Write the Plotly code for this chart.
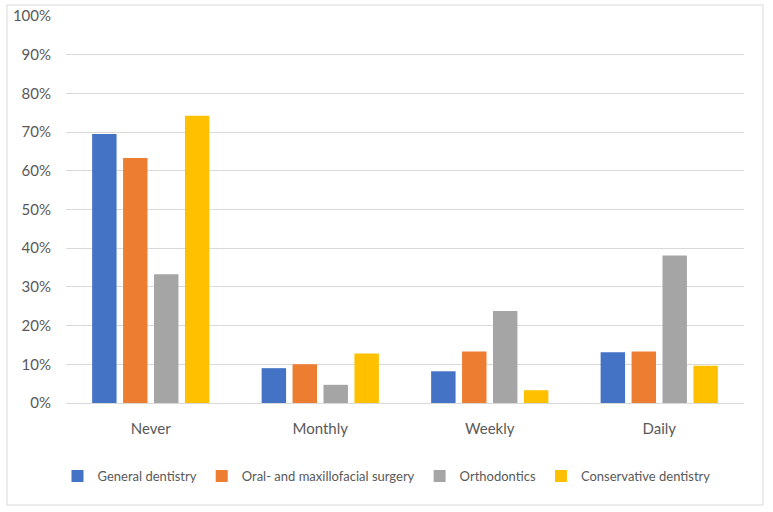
import plotly.graph_objects as go

categories = ["Never", "Monthly", "Weekly", "Daily"]
series_names = ["General dentistry", "Oral- and maxillofacial surgery", "Orthodontics", "Conservative dentistry"]
general = [0.695, 0.090, 0.082, 0.131]
oral = [0.633, 0.100, 0.133, 0.133]
ortho = [0.333, 0.047, 0.238, 0.381]
conservative = [0.742, 0.128, 0.033, 0.096]
y_ticks = [0, 0.1, 0.2, 0.3, 0.4, 0.5, 0.6, 0.7, 0.8, 0.9, 1.0]
y_tick_labels = ["0%", "10%", "20%", "30%", "40%", "50%", "60%", "70%", "80%", "90%", "100%"]

colors = ["#4472C4", "#ED7D31", "#A5A5A5", "#FFC000"]
values = [general, oral, ortho, conservative]

fig = go.Figure()
for name, vals, c in zip(series_names, values, colors):
    fig.add_trace(go.Bar(name=name, x=categories, y=vals, marker=dict(color=c, line=dict(width=0))))

W, H = 773, 512
l, r, t, b = 66, 29, 16, 109
pw, ph = W - l - r, H - t - b

def px_x(p):
    return (p - l) / pw

def px_y(p):
    return (H - b - p) / ph

fig.update_layout(
    width=W, height=H,
    margin=dict(l=l, r=r, t=t, b=b, autoexpand=False),
    paper_bgcolor="white", plot_bgcolor="white",
    barmode="group", bargap=0.27, bargroupgap=0.21,
    font=dict(family="Lato, Open Sans, sans-serif", size=15, color="#595959"),
    showlegend=True,
    legend=dict(orientation="h", xref="container", yref="container",
                x=0.5, xanchor="center", y=1 - 476 / H, yanchor="middle",
                font=dict(size=13, color="#595959"), itemwidth=30, traceorder="normal",
                tracegroupgap=0),
    xaxis=dict(showgrid=False, showline=True, linecolor="#d9d9d9", linewidth=1,
               ticks="", ticklabelstandoff=12, tickfont=dict(size=15, color="#595959")),
    yaxis=dict(range=[0, 1.0], tickvals=y_ticks, ticktext=y_tick_labels,
               showgrid=True, gridcolor="#d9d9d9", gridwidth=1, zeroline=False,
               showline=False, ticks="", ticklen=0, ticklabelstandoff=14,
               tickfont=dict(size=15, color="#595959")),
    shapes=[dict(type="rect", xref="paper", yref="paper",
                 x0=px_x(7), x1=px_x(763), y0=px_y(505), y1=px_y(5),
                 line=dict(color="#d9d9d9", width=1), fillcolor="rgba(0,0,0,0)", layer="below")],
)

fig.write_html("out.html", config={"displayModeBar": False},
               post_script="document.body.style.margin='0';document.body.style.overflow='hidden';")
